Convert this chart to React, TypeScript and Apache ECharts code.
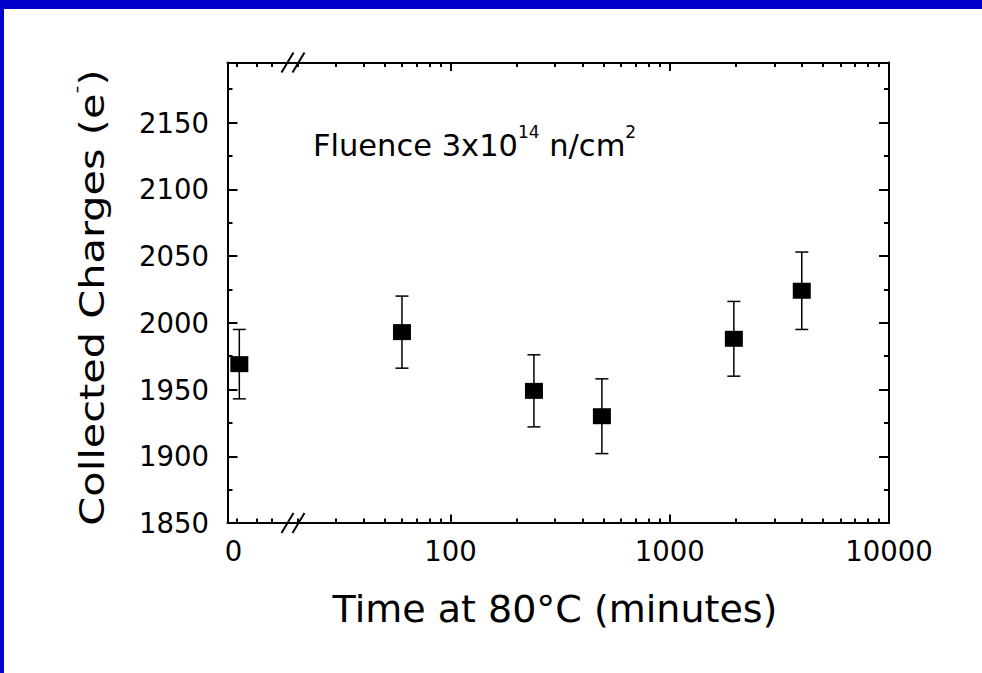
import React, { useEffect, useRef } from "react";
import * as echarts from "echarts";

// ---- data ----
const times = [2, 60, 240, 490, 1960, 4000]; // minutes at 80°C
const charges = [1969, 1993, 1949, 1930, 1988, 2024]; // collected charges (e-)
const errors = [26, 27, 27, 28, 28, 29]; // error bar half-heights

// ---- tick values ----
const yMajorTicks = [1850, 1900, 1950, 2000, 2050, 2100, 2150];
const yMinorTicks = [1875, 1925, 1975, 2025, 2075, 2125, 2175];
const xLinLabels = [0];
const xLinMinorTicks = [1, 8, 13];
const xLogMajorTicks = [100, 1000, 10000];
const xLogMinorTicks = [
  20, 30, 40, 50, 60, 70, 80, 90,
  200, 300, 400, 500, 600, 700, 800, 900,
  2000, 3000, 4000, 5000, 6000, 7000, 8000, 9000,
];

const BREAK_AT = 19; // axis break: left linear segment ends / log segment starts

const FONT = "'DejaVu Sans', sans-serif";
const BLACK = "#000";

export default function App() {
  const ref = useRef<HTMLDivElement>(null);

  useEffect(() => {
    if (!ref.current) return;
    const chart = echarts.init(ref.current, undefined, { renderer: "svg" });

    const rows = times.map((t, i) => [t, charges[i], errors[i]]);
    const rowsLin = rows.filter((r) => r[0] < BREAK_AT);
    const rowsLog = rows.filter((r) => r[0] >= BREAK_AT);

    const line = { show: true, onZero: false, lineStyle: { color: BLACK, width: 2 } };
    const noLine = { show: false, onZero: false };
    const tick = (len: number, values: number[]) => ({
      show: true,
      inside: true,
      length: len,
      customValues: values,
      lineStyle: { color: BLACK, width: 2 },
    });
    const label = (values: number[], margin: number) => ({
      show: true,
      customValues: values,
      margin,
      fontSize: 27.5,
      fontFamily: FONT,
      color: BLACK,
      formatter: (v: number) => String(Math.round(v)),
    });
    const noLabel = { show: false };
    const noSplit = { show: false };

    const errorBar = (params: any, api: any) => {
      const x = api.value(0);
      const y = api.value(1);
      const e = api.value(2);
      const p0 = api.coord([x, y + e]);
      const p1 = api.coord([x, y - e]);
      const hw = 6.5;
      const style = { stroke: BLACK, lineWidth: 1.5 };
      return {
        type: "group",
        children: [
          { type: "line", shape: { x1: p0[0], y1: p0[1], x2: p1[0], y2: p1[1] }, style },
          { type: "line", shape: { x1: p0[0] - hw, y1: p0[1], x2: p0[0] + hw, y2: p0[1] }, style },
          { type: "line", shape: { x1: p1[0] - hw, y1: p1[1], x2: p1[0] + hw, y2: p1[1] }, style },
        ],
      };
    };

    const slash = (cx: number, cy: number) => ({
      type: "line",
      silent: true,
      z: 50,
      shape: { x1: cx - 6, y1: cy + 10, x2: cx + 6, y2: cy - 10 },
      style: { stroke: BLACK, lineWidth: 2 },
    });

    const option: any = {
      animation: false,
      backgroundColor: "#fff",
      grid: [
        { left: 227.5, top: 62.5, width: 65, height: 460.5 },
        { left: 292.5, top: 62.5, width: 596.5, height: 460.5 },
      ],
      xAxis: [
        {
          type: "value", gridIndex: 0, position: "bottom", min: -2, max: 20,
          axisLine: line, axisTick: tick(4.5, xLinMinorTicks), axisLabel: label(xLinLabels, 13.5),
          splitLine: noSplit,
        },
        {
          type: "value", gridIndex: 0, position: "top", min: -2, max: 20,
          axisLine: line, axisTick: tick(4.5, xLinMinorTicks), axisLabel: noLabel,
          splitLine: noSplit,
        },
        {
          type: "log", logBase: 10, gridIndex: 1, position: "bottom", min: BREAK_AT, max: 10000,
          axisLine: line, axisTick: tick(8.5, xLogMajorTicks), axisLabel: label(xLogMajorTicks, 13.5),
          splitLine: noSplit, minorTick: { show: false },
        },
        {
          type: "log", logBase: 10, gridIndex: 1, position: "bottom", min: BREAK_AT, max: 10000,
          axisLine: noLine, axisTick: tick(4.5, xLogMinorTicks), axisLabel: noLabel,
          splitLine: noSplit, minorTick: { show: false },
        },
        {
          type: "log", logBase: 10, gridIndex: 1, position: "top", min: BREAK_AT, max: 10000,
          axisLine: line, axisTick: tick(8.5, xLogMajorTicks), axisLabel: noLabel,
          splitLine: noSplit, minorTick: { show: false },
        },
        {
          type: "log", logBase: 10, gridIndex: 1, position: "top", min: BREAK_AT, max: 10000,
          axisLine: noLine, axisTick: tick(4.5, xLogMinorTicks), axisLabel: noLabel,
          splitLine: noSplit, minorTick: { show: false },
        },
      ],
      yAxis: [
        {
          type: "value", gridIndex: 0, position: "left", min: 1850, max: 2195,
          axisLine: line, axisTick: tick(10, yMajorTicks), axisLabel: label(yMajorTicks, 18.5),
          splitLine: noSplit,
        },
        {
          type: "value", gridIndex: 0, position: "left", min: 1850, max: 2195,
          axisLine: noLine, axisTick: tick(5, yMinorTicks), axisLabel: noLabel,
          splitLine: noSplit,
        },
        {
          type: "value", gridIndex: 1, position: "right", min: 1850, max: 2195,
          axisLine: line, axisTick: tick(10, yMajorTicks), axisLabel: noLabel,
          splitLine: noSplit,
        },
        {
          type: "value", gridIndex: 1, position: "right", min: 1850, max: 2195,
          axisLine: noLine, axisTick: tick(5, yMinorTicks), axisLabel: noLabel,
          splitLine: noSplit,
        },
      ],
      series: [
        {
          type: "custom", xAxisIndex: 0, yAxisIndex: 0, data: rowsLin,
          encode: { x: 0, y: 1 }, renderItem: errorBar, z: 2, clip: false,
        },
        {
          type: "scatter", xAxisIndex: 0, yAxisIndex: 0,
          data: rowsLin.map((r) => [r[0], r[1]]),
          symbol: "rect", symbolSize: [18, 16], itemStyle: { color: BLACK, opacity: 1 }, z: 3,
        },
        {
          type: "custom", xAxisIndex: 2, yAxisIndex: 2, data: rowsLog,
          encode: { x: 0, y: 1 }, renderItem: errorBar, z: 2, clip: false,
        },
        {
          type: "scatter", xAxisIndex: 2, yAxisIndex: 2,
          data: rowsLog.map((r) => [r[0], r[1]]),
          symbol: "rect", symbolSize: [18, 16], itemStyle: { color: BLACK, opacity: 1 }, z: 3,
        },
      ],
      graphic: [
        { type: "rect", silent: true, z: 100, shape: { x: 0, y: 0, width: 982, height: 9 }, style: { fill: "#0000cc" } },
        { type: "rect", silent: true, z: 100, shape: { x: 0, y: 0, width: 4, height: 673 }, style: { fill: "#0000cc" } },
        slash(287.5, 62.5),
        slash(298.5, 62.5),
        slash(287.5, 523),
        slash(298.5, 523),
        {
          type: "text", silent: true, z: 50,
          x: 92, y: 297.5, rotation: Math.PI / 2, scaleX: 1.22, scaleY: 1,
          style: {
            text: "{a|Collected Charges (e}{s|-}{a|)}",
            align: "center", verticalAlign: "middle",
            rich: {
              a: { fontSize: 34, fontFamily: FONT, fill: BLACK, lineHeight: 50, verticalAlign: "middle" },
              s: { fontSize: 18, fontFamily: FONT, fill: BLACK, lineHeight: 18, verticalAlign: "top" },
            },
          },
        },
        {
          type: "text", silent: true, z: 50,
          x: 555, y: 609,
          style: {
            text: "Time at 80°C (minutes)",
            fontSize: 38, fontFamily: FONT, fill: BLACK,
            align: "center", verticalAlign: "middle",
          },
        },
        {
          type: "text", silent: true, z: 50,
          x: 313, y: 145.5,
          style: {
            text: "{a|Fluence 3x10}{s|14}{a| n/cm}{s|2}",
            align: "left", verticalAlign: "middle",
            rich: {
              a: { fontSize: 30.5, fontFamily: FONT, fill: BLACK, lineHeight: 44, verticalAlign: "middle" },
              s: { fontSize: 17, fontFamily: FONT, fill: BLACK, lineHeight: 17, verticalAlign: "top" },
            },
          },
        },
      ],
    };

    chart.setOption(option);
    return () => chart.dispose();
  }, []);

  return (
    <div
      ref={ref}
      style={{ position: "fixed", left: 0, top: 0, width: 982, height: 673, background: "#fff" }}
    />
  );
}
